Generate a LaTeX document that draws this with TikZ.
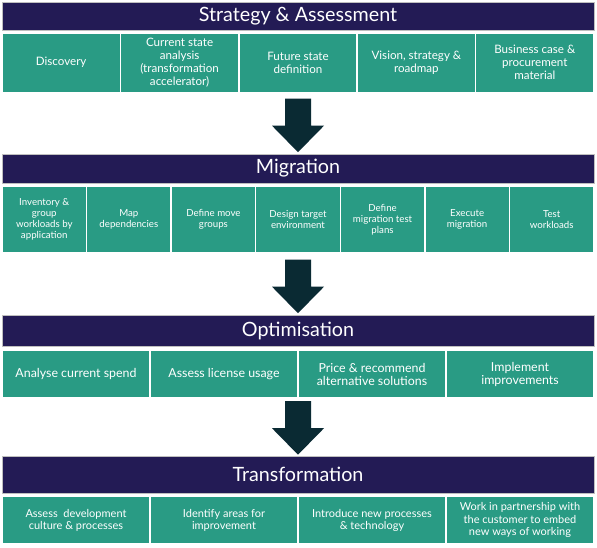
\documentclass[tikz,border=0pt]{standalone}
\usepackage{fontspec}
\setmainfont{Lato}
\definecolor{phasenavy}{RGB}{35,27,85}
\definecolor{taskteal}{RGB}{41,155,132}
\definecolor{arrowdark}{RGB}{10,42,51}

\begin{document}
\begin{tikzpicture}[x=1pt,y=-1pt,
    phase/.style={fill=phasenavy, draw=black!25, line width=0.6pt, text=white,
      minimum width=592pt, inner sep=0pt, font=\fontsize{19.7}{21}\selectfont},
    task/.style={fill=taskteal, draw=white, line width=1.5pt, text=white,
      align=center, inner sep=0pt},
    rowa/.style={task, minimum width=118.4pt, minimum height=59.5pt, font=\fontsize{11.6}{13}\selectfont},
    rowb/.style={task, minimum width=84.57pt, minimum height=66.5pt, font=\fontsize{9.7}{11}\selectfont},
    rowc/.style={task, minimum width=148pt, minimum height=47.5pt, font=\fontsize{12.4}{13.5}\selectfont},
    rowd/.style={task, minimum width=148pt, minimum height=47.5pt, font=\fontsize{11}{12.5}\selectfont},
    blockarrow/.style={fill=arrowdark, to path={([yshift=1.5pt]\tikztotarget)
      -- ++(-26,-26.5) -- ++(13,0) -- ++(0,-27) -- ++(26,0) -- ++(0,27) -- ++(13,0) -- cycle}}]
  \fill[white] (0,0) rectangle (597,547);

  % strategy
  \node[phase, minimum height=28.5pt] (strat) at (298,16.25) {Strategy \& Assessment};
  \node[rowa] (s1) at (61.2,62.75) {Discovery};
  \node[rowa] (s2) at (179.6,62.75) {Current state\\analysis\\(transformation\\accelerator)};
  \node[rowa] (s3) at (298,62.75) {Future state\\definition};
  \node[rowa] (s4) at (416.4,62.75) {Vision, strategy \&\\roadmap};
  \node[rowa] (s5) at (534.8,62.75) {Business case \&\\procurement\\material};

  % migration
  \node[phase, minimum height=29pt] (migr) at (298,168.5) {Migration};
  \node[rowb] (m1) at (44.29,219.75) {Inventory \&\\group\\workloads by\\application};
  \node[rowb] (m2) at (128.86,219.75) {Map\\dependencies};
  \node[rowb] (m3) at (213.43,219.75) {Define move\\groups};
  \node[rowb] (m4) at (298,219.75) {Design target\\environment};
  \node[rowb] (m5) at (382.57,219.75) {Define\\migration test\\plans};
  \node[rowb] (m6) at (467.14,219.75) {Execute\\migration};
  \node[rowb] (m7) at (551.71,219.75) {Test\\workloads};

  % optimisation
  \node[phase, minimum height=31pt] (optim) at (298,330.5) {Optimisation};
  \node[rowc] (o1) at (76,374.25) {Analyse current spend};
  \node[rowc] (o2) at (224,374.25) {Assess license usage};
  \node[rowc] (o3) at (372,374.25) {Price \& recommend\\alternative solutions};
  \node[rowc] (o4) at (520,374.25) {Implement\\improvements};

  % transformation
  \node[phase, minimum height=36.5pt] (transf) at (298,474.75) {Transformation};
  \node[rowd] (t1) at (76,520.25) {Assess~~development\\culture \& processes};
  \node[rowd] (t2) at (224,520.25) {Identify areas for\\improvement};
  \node[rowd] (t3) at (372,520.25) {Introduce new processes\\\& technology};
  \node[rowd] (t4) at (520,520.25) {Work in partnership with\\the customer to embed\\new ways of working};

  % arrows between phases
  \path[blockarrow] (s3.south) to (migr.north);
  \path[blockarrow] (m4.south) to (optim.north);
  \path[blockarrow] (o2.south east) to (transf.north);
\end{tikzpicture}
\end{document}
